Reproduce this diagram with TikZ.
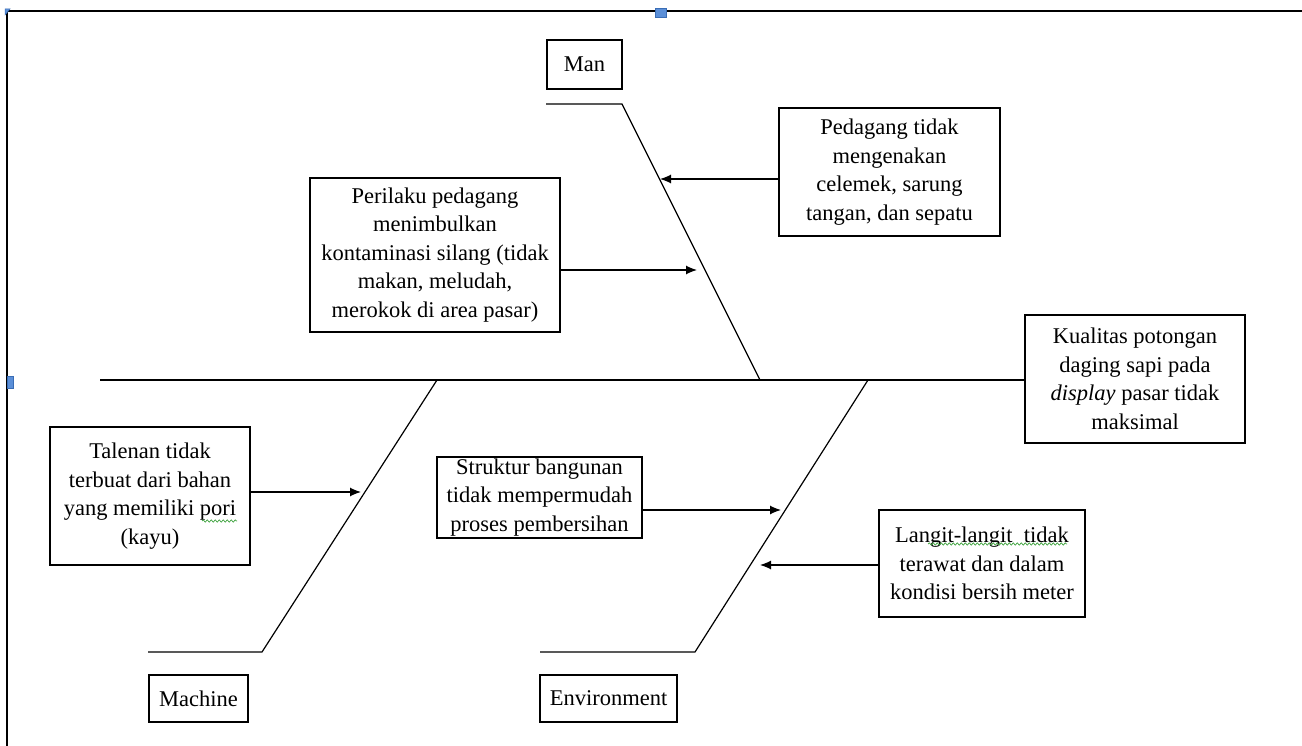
\documentclass[tikz,border=0pt]{standalone}
\usepackage{fontspec}
\setmainfont{Liberation Serif}
\usetikzlibrary{arrows.meta,decorations.pathmorphing}
\definecolor{handleblue}{HTML}{5B8FD8}
\definecolor{handleedge}{HTML}{3A6DB5}
\definecolor{spellgreen}{HTML}{3FA33F}
\begin{document}
\begin{tikzpicture}[x=1pt,y=-1pt,
  box/.style={draw, line width=1.2pt, inner sep=0pt, align=center,
    font=\fontsize{22.5}{28.5}\selectfont},
  spine/.style={line width=1.2pt},
  arr/.style={line width=1.2pt, -{Latex[length=11pt,width=9pt]}},
  frame/.style={line width=1.3pt},
  handle/.style={fill=handleblue, draw=handleedge, line width=0.5pt},
  squiggle/.style={draw=spellgreen, line width=0.7pt,
    decorate, decoration={snake, segment length=4pt, amplitude=1.1pt}}
]
\useasboundingbox (0,0) rectangle (1302,746);
\fill[white] (0,0) rectangle (1302,746);

% frame of the drawing canvas
\coordinate (ftl) at (7,11);
\coordinate (ftr) at (1302,11);
\coordinate (fbl) at (7,746);
\draw[frame] (ftr) -- (ftl) -- (fbl);
\path[handle] (5,9) -- (10,9) -- (5,15) -- cycle;
\path[handle] (655,8) rectangle (666,17);
\path[handle] (7,376) rectangle (13,388);

% boxes
\node[box, minimum width=75, minimum height=49] (man) at (584.5,64.5) {Man};
\node[box, minimum width=220, minimum height=128] (kual) at (1135,379)
  {Kualitas potongan\\daging sapi pada\\\textit{display} pasar tidak\\maksimal};
\node[box, minimum width=250, minimum height=154] (perilaku) at (435,255)
  {Perilaku pedagang\\menimbulkan\\kontaminasi silang (tidak\\makan, meludah,\\merokok di area pasar)};
\node[box, minimum width=221, minimum height=128] (pedagang) at (889.5,172)
  {Pedagang tidak\\mengenakan\\celemek, sarung\\tangan, dan sepatu};
\node[box, minimum width=200, minimum height=138] (talenan) at (150,496)
  {Talenan tidak\\terbuat dari bahan\\yang memiliki pori\\(kayu)};
\node[box, minimum width=205, minimum height=81] (struktur) at (539.5,497.5)
  {Struktur bangunan\\tidak mempermudah\\proses pembersihan};
\node[box, minimum width=206, minimum height=107] (langit) at (982,563.5)
  {Langit-langit\ \ tidak\\terawat dan dalam\\kondisi bersih meter};
\node[box, minimum width=99, minimum height=47] (machine) at (198.5,698.5) {Machine};
\node[box, minimum width=137, minimum height=47] (env) at (608.5,698.5) {Environment};

% main spine
\coordinate (tail) at (100,380);
\draw[spine] (tail) -- (kual.west |- tail);

% Man bone
\coordinate (m1) at (546,104);
\coordinate (m2) at (622,104);
\coordinate (m3) at (760,380);
\draw[spine] (m1) -- (m2) -- (m3);

% Machine bone
\coordinate (c1) at (148,652);
\coordinate (c2) at (262,652);
\coordinate (c3) at (437,380);
\draw[spine] (c1) -- (c2) -- (c3);

% Environment bone
\coordinate (e1) at (540,652);
\coordinate (e2) at (695,652);
\coordinate (e3) at (868,380);
\draw[spine] (e1) -- (e2) -- (e3);

% cause arrows
\coordinate (pm) at (660,179);
\coordinate (pp) at (697,270);
\coordinate (pt) at (361,492);
\coordinate (ps) at (781,510);
\coordinate (pl) at (760,565);
\draw[arr] (pedagang.west |- pm) -- (pm);
\draw[arr] (perilaku.east |- pp) -- (pp);
\draw[arr] (talenan.east |- pt) -- (pt);
\draw[arr] (struktur.east |- ps) -- (ps);
\draw[arr] (langit.west |- pl) -- (pl);

% spelling marks
\draw[squiggle] (202,521) -- (237,521);
\draw[squiggle] (928,544) -- (1067,544);
\end{tikzpicture}
\end{document}
